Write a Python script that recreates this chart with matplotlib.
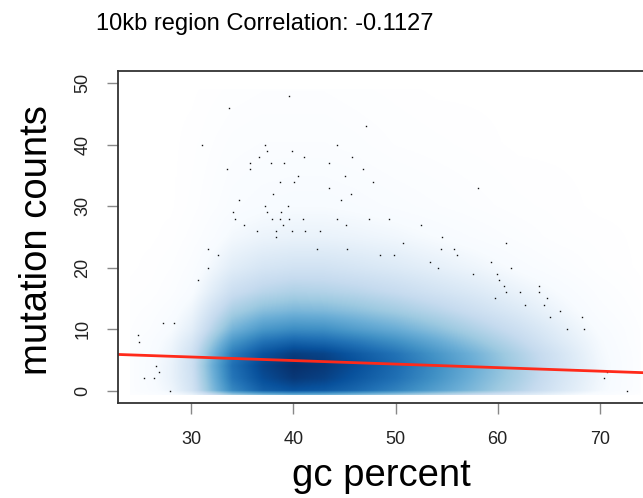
import numpy as np
import matplotlib
matplotlib.use("Agg")
import matplotlib.pyplot as plt
from matplotlib.colors import LinearSegmentedColormap

plt.rcParams["font.family"] = ["Liberation Sans", "DejaVu Sans"]

# ── data ──
TITLE = "10kb region Correlation: -0.1127"

# smoothed density (x^0.25 transformed, scaled 0..1)
DENS_X = [24, 26, 28, 30, 32, 34, 37, 40, 43, 46, 50, 54, 58, 62, 66, 70, 74]
DENS_Y = [-0.7, 0, 2, 4, 6, 8, 10, 13, 16, 20, 25, 30, 40, 49]
DENS = [
    [0.03, 0.06, 0.10, 0.17, 0.31, 0.44, 0.52, 0.56, 0.55, 0.51, 0.45, 0.38, 0.31, 0.24, 0.16, 0.08, 0.02],
    [0.05, 0.09, 0.15, 0.27, 0.50, 0.70, 0.84, 0.88, 0.86, 0.81, 0.72, 0.61, 0.50, 0.38, 0.25, 0.13, 0.04],
    [0.05, 0.10, 0.17, 0.29, 0.53, 0.76, 0.90, 0.97, 0.94, 0.87, 0.78, 0.66, 0.53, 0.41, 0.27, 0.14, 0.04],
    [0.05, 0.10, 0.17, 0.30, 0.55, 0.78, 0.93, 1.00, 0.97, 0.90, 0.80, 0.68, 0.55, 0.42, 0.28, 0.14, 0.04],
    [0.05, 0.09, 0.16, 0.29, 0.52, 0.74, 0.88, 0.95, 0.93, 0.86, 0.77, 0.65, 0.53, 0.40, 0.27, 0.13, 0.04],
    [0.04, 0.08, 0.14, 0.25, 0.45, 0.64, 0.77, 0.82, 0.80, 0.75, 0.67, 0.57, 0.46, 0.35, 0.23, 0.12, 0.03],
    [0.03, 0.06, 0.11, 0.20, 0.37, 0.53, 0.64, 0.68, 0.67, 0.62, 0.56, 0.48, 0.39, 0.30, 0.20, 0.10, 0.03],
    [0.02, 0.04, 0.08, 0.15, 0.29, 0.41, 0.49, 0.52, 0.51, 0.48, 0.43, 0.37, 0.30, 0.23, 0.15, 0.07, 0.02],
    [0.01, 0.02, 0.05, 0.10, 0.21, 0.31, 0.37, 0.40, 0.39, 0.37, 0.33, 0.28, 0.23, 0.17, 0.11, 0.05, 0.01],
    [0.00, 0.01, 0.03, 0.07, 0.14, 0.21, 0.26, 0.28, 0.28, 0.26, 0.23, 0.19, 0.15, 0.10, 0.06, 0.02, 0.00],
    [0.00, 0.00, 0.01, 0.04, 0.08, 0.13, 0.16, 0.17, 0.17, 0.16, 0.14, 0.11, 0.08, 0.05, 0.02, 0.01, 0.00],
    [0.00, 0.00, 0.00, 0.02, 0.05, 0.08, 0.10, 0.11, 0.11, 0.10, 0.08, 0.06, 0.04, 0.02, 0.01, 0.00, 0.00],
    [0.00, 0.00, 0.00, 0.01, 0.03, 0.05, 0.06, 0.06, 0.06, 0.05, 0.03, 0.02, 0.01, 0.00, 0.00, 0.00, 0.00],
    [0.00, 0.00, 0.00, 0.00, 0.01, 0.02, 0.03, 0.03, 0.03, 0.02, 0.01, 0.00, 0.00, 0.00, 0.00, 0.00, 0.00],
]

# outlying points drawn by smoothScatter
PTS_GC = [39.60, 33.69, 31.05, 37.22, 37.41, 39.86, 36.60, 41.04, 35.75, 37.81,
          39.11, 33.47, 35.75, 40.45, 38.66, 40.09, 38.03, 34.64, 37.22, 39.47,
          34.05, 37.41, 38.76, 34.28, 37.90, 38.66, 39.60, 40.94, 35.13, 38.98,
          36.46, 38.27, 39.86, 41.17, 38.27, 31.64, 42.28, 47.11, 44.30, 45.74,
          43.49, 45.02, 46.85, 47.80, 43.49, 45.64, 44.66, 58.05, 44.30, 47.43,
          49.36, 45.15, 52.47, 42.63, 54.55, 50.71, 45.25, 54.46, 55.76, 60.82,
          48.45, 49.85, 56.02, 53.35, 54.19, 59.38, 61.31, 57.59, 59.97, 60.11,
          60.60, 64.08, 60.82, 62.16, 64.08, 64.84, 59.75, 62.65, 64.54, 66.14,
          65.16, 68.30, 66.77, 68.43, 70.69, 70.39, 72.64, 32.62, 31.64, 30.69,
          27.20, 28.28, 24.78, 24.88, 26.57, 26.84, 25.37, 26.35, 27.91]
PTS_MUT = [48, 46, 40, 40, 39, 39, 38, 38, 37, 37,
           37, 36, 36, 35, 34, 34, 32, 31, 30, 30,
           29, 29, 29, 28, 28, 28, 28, 28, 27, 27,
           26, 26, 26, 26, 25, 23, 23, 43, 40, 38,
           37, 35, 36, 34, 33, 32, 31, 33, 28, 28,
           28, 27, 27, 26, 25, 24, 23, 23, 23, 24,
           22, 22, 22, 21, 20, 21, 20, 19, 19, 18,
           17, 17, 16, 16, 16, 15, 15, 14, 14, 13,
           12, 12, 10, 10, 3, 2, 0, 22, 20, 18,
           11, 11, 9, 8, 4, 3, 2, 2, 0]

# linear fit (intercept, slope)
FIT = (7.21, -0.0576)

BLUES9 = ["#F7FBFF", "#DEEBF7", "#C6DBEF", "#9ECAE1", "#6BAED6",
          "#4292C6", "#2171B5", "#08519C", "#08306B"]
cmap = LinearSegmentedColormap.from_list("smooth", ["#FFFFFF"] + BLUES9, N=256)

fig = plt.figure(figsize=(6.43, 4.98), dpi=100)
ax = fig.add_axes([118 / 643, 95 / 498, 1 - 118 / 643, 332 / 498])

# resample the read-off grid onto a regular raster for display
dx = np.array(DENS_X, float)
dy = np.array(DENS_Y, float)
dens = np.array(DENS, float)
gx = np.linspace(dx[0], dx[-1], 500)
gy = np.linspace(dy[0], dy[-1], 500)
tmp = np.array([np.interp(gx, dx, row) for row in dens])
img = np.array([np.interp(gy, dy, tmp[:, j]) for j in range(len(gx))]).T
ax.imshow(img, origin="lower", extent=(dx[0], dx[-1], dy[0], dy[-1]),
          aspect="auto", cmap=cmap, vmin=0, vmax=1, interpolation="bilinear")

ax.plot(PTS_GC, PTS_MUT, "s", color="#111111", markersize=1.0, markeredgewidth=0)

xl = np.array([22.8, 74.3])
ax.plot(xl, FIT[0] + FIT[1] * xl, color="#FF2A1A", lw=2.0)

ax.set_xlim(22.82, 74.24)
ax.set_ylim(-2, 52)
ax.set_xticks([30, 40, 50, 60, 70])
ax.set_yticks([0, 10, 20, 30, 40, 50])
for s in ("left", "bottom", "top"):
    ax.spines[s].set_color("#333333")
    ax.spines[s].set_linewidth(1.3)
ax.spines["right"].set_visible(False)
ax.tick_params(axis="both", length=8, width=1.0, color="#888888",
               labelsize=13, labelcolor="#222222")
ax.tick_params(axis="x", pad=12)
ax.tick_params(axis="y", pad=11)
for lab in ax.get_yticklabels():
    lab.set_rotation(90)
    lab.set_va("center")

fig.text(265 / 643, 1 - 30 / 498, TITLE, fontsize=17, ha="center", va="baseline")
fig.text(381 / 643, 12 / 498, "gc percent", fontsize=27.5, ha="center", va="baseline")
fig.text(36.7 / 643, 1 - 240.5 / 498, "mutation counts", fontsize=27.5,
         rotation=90, ha="center", va="center")

fig.savefig("out.png", dpi=100)
